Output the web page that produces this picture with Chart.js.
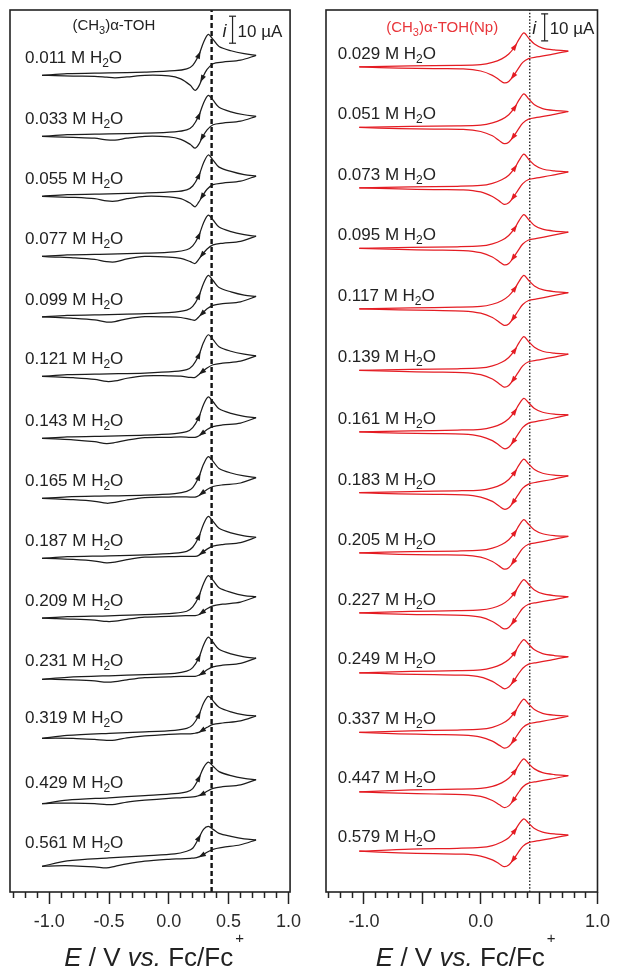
<!DOCTYPE html>
<html><head><meta charset="utf-8">
<script src="https://cdn.jsdelivr.net/npm/chart.js@4.4.1/dist/chart.umd.min.js"></script>
<style>
html,body{margin:0;padding:0;background:#fff;}
#wrap{position:relative;width:617px;height:967px;overflow:hidden;background:#fff;}
#c1{position:absolute;left:0;top:0;}
#c2{position:absolute;left:310px;top:0;}
</style></head><body>
<div id="wrap"><canvas id="c1" width="308" height="967"></canvas><canvas id="c2" width="307" height="967"></canvas></div>
<script>
// ---------------- data (E in V vs Fc/Fc+, current in µA) ----------------
const X_TICKS = [-1.3,-1.2,-1.1,-1.0,-0.9,-0.8,-0.7,-0.6,-0.5,-0.4,-0.3,-0.2,-0.1,0,0.1,0.2,0.3,0.4,0.5,0.6,0.7,0.8,0.9,1.0];
const LEFT_TICK_LABELS = [-1.0,-0.5,0,0.5,1.0];
const RIGHT_TICK_LABELS = [-1.0,0,1.0];

const LEFT_WATER = ['0.011','0.033','0.055','0.077','0.099','0.121','0.143','0.165','0.187','0.209','0.231','0.319','0.429','0.561'];
const RIGHT_WATER = ['0.029','0.051','0.073','0.095','0.117','0.139','0.161','0.183','0.205','0.227','0.249','0.337','0.447','0.579'];

// vertical stacking offset of each voltammogram (µA)
const LEFT_OFFSET = [302.5,279.9,257.7,235.4,213.0,191.0,168.0,145.8,123.6,101.4,78.8,56.9,32.7,9.5];
const RIGHT_OFFSET = [305.6,283.2,260.8,238.4,216.0,193.2,170.4,147.9,125.6,103.4,81.2,59.1,37.1,15.1];

// potentials of the anodic (forward) and return sweeps
const LEFT_E_FWD = [-1.06,-0.85,-0.5,-0.2,0.05,0.15,0.2,0.25,0.29,0.33,0.37,0.42,0.52,0.63,0.73];
const LEFT_E_REV = [0.73,0.6,0.45,0.37,0.32,0.28,0.25,0.22,0.18,0.1,0.0,-0.2,-0.35,-0.45,-0.52,-0.62,-0.8,-0.95,-1.06];
const RIGHT_E_FWD = [-1.04,-0.6,-0.2,0.0,0.1,0.18,0.24,0.29,0.33,0.37,0.41,0.46,0.53,0.63,0.75];
const RIGHT_E_REV = [0.75,0.6,0.48,0.41,0.36,0.32,0.28,0.24,0.2,0.16,0.1,0.0,-0.15,-0.4,-0.7,-1.04];

// currents (µA, relative to the trace offset)
const LEFT_FWD = [
 [0,0.6,0.9,1.2,1.7,2.4,3.7,7.4,12.2,15.2,13.3,10.7,9.1,8.0,7.4],
 [0,0.6,0.9,1.2,1.7,2.4,3.8,7.5,12.3,15.2,13.4,10.8,9.1,8.0,7.4],
 [0,0.6,0.9,1.2,1.7,2.4,3.8,7.5,12.3,15.3,13.4,10.8,9.2,8.0,7.5],
 [0,0.6,0.9,1.2,1.7,2.5,3.9,7.6,12.4,15.3,13.5,10.9,9.2,8.1,7.5],
 [0,0.6,0.9,1.2,1.8,2.5,3.9,7.6,12.4,15.4,13.5,10.9,9.3,8.1,7.6],
 [0,0.6,0.9,1.2,1.8,2.5,4.0,7.7,12.5,15.4,13.6,11.0,9.3,8.2,7.6],
 [0,0.6,0.9,1.2,1.8,2.5,4.0,7.7,12.5,15.4,13.6,11.0,9.3,8.2,7.7],
 [0,0.6,0.9,1.2,1.8,2.6,4.0,7.8,12.6,15.5,13.7,11.1,9.4,8.3,7.7],
 [0,0.6,0.9,1.3,1.9,2.6,4.1,7.8,12.6,15.5,13.7,11.1,9.4,8.3,7.8],
 [0,0.6,0.9,1.3,1.9,2.6,4.2,8.0,12.8,15.8,14.0,11.3,9.6,8.4,8.0],
 [0,0.7,1.3,1.7,2.2,3.0,4.3,7.8,12.6,15.6,13.7,11.1,9.4,8.3,7.8],
 [0,1.1,1.9,2.4,3.0,3.7,5.0,8.5,13.0,15.6,13.9,11.5,9.8,8.7,8.3],
 [0,1.3,2.2,3.0,3.7,4.4,5.6,9.3,13.3,15.4,13.9,11.9,10.4,9.4,8.9],
 [0,2.0,3.1,3.9,4.6,5.6,6.7,10.4,13.7,14.8,13.7,12.2,11.1,10.2,9.8]
];
const LEFT_REV = [
 [7.4,5.6,4.9,4.3,2.2,-1.1,-4.1,-5.6,-3.7,-1.3,-0.2,0,-0.6,-0.9,-0.7,-0.4,-0.3,-0.1,0],
 [7.4,5.6,4.9,4.3,2.4,-0.4,-3.0,-4.4,-3.0,-1.1,-0.2,0,-0.7,-1.4,-1.3,-0.7,-0.4,-0.2,0],
 [7.5,5.6,4.9,4.3,2.6,0,-2.2,-3.9,-2.6,-0.9,-0.2,0,-0.9,-1.8,-1.7,-0.9,-0.4,-0.2,0],
 [7.5,5.6,4.9,4.3,2.8,0.7,-1.1,-2.6,-1.9,-0.7,-0.2,0,-0.9,-2.0,-1.9,-1.1,-0.5,-0.2,0],
 [7.6,5.6,4.9,4.3,3.0,1.3,0,-1.2,-0.9,-0.2,0,0.1,-0.7,-1.7,-1.9,-1.1,-0.5,-0.2,0],
 [7.6,5.6,4.9,4.3,3.1,1.7,0.6,-0.4,-0.4,0.1,0.2,0.2,-0.7,-1.7,-1.9,-1.1,-0.5,-0.2,0],
 [7.7,5.7,5.0,4.4,3.3,1.9,0.9,0.4,0.4,0.6,0.4,0.3,-0.6,-1.5,-1.9,-1.2,-0.5,-0.2,0],
 [7.7,5.7,5.0,4.4,3.3,2.0,1.0,0.5,0.5,0.6,0.5,0.3,-0.6,-1.5,-1.8,-1.1,-0.5,-0.2,0],
 [7.8,5.8,5.1,4.5,3.4,2.1,1.1,0.7,0.7,0.7,0.6,0.4,-0.5,-1.4,-1.7,-1.0,-0.4,-0.1,0],
 [8.0,6.0,5.2,4.6,3.5,2.2,1.3,1.0,1.0,0.9,0.7,0.4,-0.4,-1.1,-1.2,-0.7,-0.3,-0.1,0],
 [7.8,5.9,5.2,4.6,3.5,2.2,1.5,1.1,1.1,1.1,0.9,0.6,-0.2,-0.9,-1.1,-0.6,-0.2,0,0],
 [8.3,6.5,5.7,5.2,4.1,3.0,2.2,1.9,1.7,1.7,1.5,0.9,0.2,-0.6,-0.7,-0.4,0,0.1,0],
 [8.9,7.0,6.3,5.7,4.6,3.5,3.0,2.6,2.4,2.2,2.0,1.3,0.6,-0.2,-0.3,0,0.2,0.2,0],
 [9.8,8.0,7.0,6.3,5.2,4.1,3.5,3.1,3.0,2.8,2.6,1.9,0.9,0,-0.6,-0.2,0.2,0.2,0]
];
const RIGHT_FWD = [
 [0,0.4,0.6,0.9,1.7,3.0,4.8,7.4,10.4,12.6,10.7,8.5,7.0,6.3,5.9],
 [0,0.4,0.6,0.9,1.7,3.0,4.7,7.3,10.3,12.4,10.6,8.4,7.0,6.3,5.9],
 [0,0.4,0.6,0.9,1.7,3.0,4.7,7.3,10.3,12.5,10.6,8.5,7.0,6.3,5.9],
 [0,0.4,0.6,0.9,1.7,3.0,4.8,7.4,10.4,12.5,10.7,8.5,7.1,6.4,6.0],
 [0,0.4,0.6,0.9,1.7,3.0,4.8,7.4,10.3,12.4,10.6,8.5,7.1,6.4,6.0],
 [0,0.4,0.6,0.9,1.7,3.0,4.8,7.4,10.4,12.5,10.7,8.6,7.1,6.4,6.0],
 [0,0.4,0.7,1.0,1.8,3.1,4.9,7.5,10.4,12.4,10.8,8.7,7.3,6.6,6.3],
 [0,0.4,0.7,1.0,1.8,3.1,4.9,7.5,10.4,12.4,10.7,8.6,7.2,6.5,6.2],
 [0,0.5,0.7,1.0,1.8,3.1,4.9,7.4,10.3,12.3,10.6,8.5,7.1,6.4,6.1],
 [0,0.5,0.8,1.1,1.8,3.1,4.9,7.4,10.3,12.3,10.6,8.5,7.1,6.4,6.0],
 [0,0.5,0.8,1.1,1.9,3.2,4.9,7.4,10.3,12.3,10.6,8.5,7.1,6.4,6.0],
 [0,0.6,0.9,1.2,1.9,3.2,4.9,7.4,10.3,12.3,10.6,8.5,7.1,6.4,6.0],
 [0,0.7,1.0,1.3,2.0,3.3,5.0,7.5,10.3,12.2,10.5,8.5,7.1,6.4,6.0],
 [0,0.8,1.1,1.4,2.1,3.4,5.0,7.5,10.2,12.0,10.4,8.4,7.1,6.4,6.0]
];
const RIGHT_REV = [
 [5.9,4.6,3.7,3.1,1.7,-0.7,-3.3,-5.4,-5.9,-4.8,-3.1,-1.5,-0.7,-0.6,-0.4,0],
 [5.9,4.6,3.7,3.1,1.6,-0.8,-3.4,-5.5,-6.0,-4.9,-3.1,-1.5,-0.7,-0.6,-0.4,0],
 [5.9,4.6,3.7,3.1,1.6,-0.8,-3.4,-5.5,-6.1,-4.9,-3.2,-1.5,-0.7,-0.6,-0.4,0],
 [6.0,4.7,3.7,3.1,1.6,-0.8,-3.4,-5.6,-6.1,-5.0,-3.2,-1.6,-0.8,-0.6,-0.4,0],
 [6.0,4.7,3.7,3.1,1.6,-0.8,-3.4,-5.6,-6.1,-5.0,-3.2,-1.6,-0.8,-0.6,-0.4,0],
 [6.0,4.7,3.8,3.2,1.7,-0.8,-3.4,-5.6,-6.2,-5.0,-3.2,-1.6,-0.8,-0.6,-0.4,0],
 [6.3,4.9,3.9,3.3,1.7,-0.8,-3.5,-5.7,-6.2,-5.0,-3.2,-1.6,-0.8,-0.6,-0.4,0],
 [6.2,4.8,3.9,3.2,1.7,-0.8,-3.4,-5.6,-6.1,-5.0,-3.2,-1.6,-0.8,-0.6,-0.4,0],
 [6.1,4.8,3.8,3.2,1.7,-0.7,-3.3,-5.5,-6.0,-4.9,-3.2,-1.6,-0.8,-0.7,-0.5,0],
 [6.0,4.7,3.8,3.2,1.7,-0.7,-3.3,-5.4,-5.9,-4.9,-3.2,-1.6,-0.9,-0.7,-0.5,0],
 [6.0,4.7,3.8,3.2,1.7,-0.6,-3.2,-5.3,-5.9,-4.8,-3.2,-1.6,-0.9,-0.7,-0.5,0],
 [6.0,4.7,3.8,3.2,1.8,-0.5,-3.1,-5.2,-5.8,-4.8,-3.2,-1.7,-1.0,-0.8,-0.5,0],
 [6.0,4.7,3.8,3.2,1.8,-0.5,-3.1,-5.2,-5.8,-4.8,-3.2,-1.7,-1.0,-0.8,-0.5,0],
 [6.0,4.7,3.8,3.2,1.8,-0.5,-3.0,-5.1,-5.7,-4.7,-3.2,-1.8,-1.1,-0.9,-0.6,0]
];

const LEFT_MARKER_E = 0.358;   // dashed reference line
const RIGHT_MARKER_E = 0.42;   // dotted reference line
const SCALE_BAR_UA = 10;

// ---------------- drawing ----------------
const FONT = "'Liberation Sans', Arial, Helvetica, sans-serif";
Chart.defaults.font.family = FONT;
const Y_MAX = 326.7;

function drawParts(ctx, parts, x, y, color, align) {
  // parts: [text, size, dy, italic, extraGapBefore]
  let w = 0;
  parts.forEach(p => { ctx.font = (p[3] ? 'italic ' : '') + p[1] + 'px ' + FONT; w += ctx.measureText(p[0]).width + (p[4] || 0); });
  let cx = align === 'center' ? x - w / 2 : x;
  ctx.fillStyle = color; ctx.textBaseline = 'alphabetic'; ctx.textAlign = 'left';
  parts.forEach(p => {
    ctx.font = (p[3] ? 'italic ' : '') + p[1] + 'px ' + FONT;
    cx += (p[4] || 0);
    ctx.fillText(p[0], cx, y + p[2]);
    cx += ctx.measureText(p[0]).width;
  });
}

function makePanel(id, cfg) {
  const datasets = [];
  cfg.fwd.forEach((f, i) => {
    const style = { showLine: true, borderColor: cfg.color, borderWidth: 1.25, pointRadius: 0, tension: 0.3, fill: false };
    datasets.push(Object.assign({ data: cfg.eFwd.map((e, k) => ({ x: e, y: cfg.offset[i] + f[k] })), arrowAt: cfg.fwdArrow }, style));
    datasets.push(Object.assign({ data: cfg.eRev.map((e, k) => ({ x: e, y: cfg.offset[i] + cfg.rev[i][k] })), arrowAt: cfg.revArrow }, style));
  });
  datasets.push({ data: [{ x: cfg.markerE, y: 0 }, { x: cfg.markerE, y: Y_MAX }], showLine: true, borderColor: '#111',
    borderWidth: cfg.markerWidth, borderDash: cfg.markerDash, pointRadius: 0, tension: 0 });
  datasets.push({ data: [{ x: cfg.barE, y: cfg.barTop }, { x: cfg.barE, y: cfg.barTop - SCALE_BAR_UA }], showLine: true,
    borderColor: '#222', borderWidth: 1.2, pointStyle: 'line', pointRadius: 3.5, pointBorderWidth: 1.2, pointBorderColor: '#222', tension: 0 });

  const decor = {
    id: 'decor' + id,
    afterDatasetsDraw(chart) {
      const ctx = chart.ctx, xs = chart.scales.x, ys = chart.scales.y, ca = chart.chartArea;
      ctx.save();
      // arrows on the sweeps
      chart.data.datasets.forEach((d, i) => {
        if (d.arrowAt == null) return;
        const pts = chart.getDatasetMeta(i).data;
        const p = pts[d.arrowAt], a = pts[d.arrowAt - 1], b = pts[d.arrowAt + 1];
        const ang = Math.atan2(b.y - a.y, b.x - a.x);
        ctx.save(); ctx.translate(p.x, p.y); ctx.rotate(ang);
        ctx.beginPath(); ctx.moveTo(4.5, 0); ctx.lineTo(-3, -2.6); ctx.lineTo(-3, 2.6); ctx.closePath();
        ctx.fillStyle = d.borderColor; ctx.fill(); ctx.restore();
      });
      // frame
      ctx.strokeStyle = '#222'; ctx.lineWidth = 1.6;
      ctx.strokeRect(ca.left, ca.top, ca.right - ca.left, ca.bottom - ca.top);
      // trace labels
      cfg.water.forEach((w, i) => {
        const x = xs.getPixelForValue(cfg.labelE);
        const y = ys.getPixelForValue(cfg.offset[i] + cfg.fwd[i][cfg.labelRef] + cfg.labelLift) + 6;
        drawParts(ctx, [[w + ' M H', 17, 0], ['2', 12, 4], ['O', 17, 0]], x, y, '#222', 'left');
      });
      // panel title
      drawParts(ctx, [['(CH', 15, 0], ['3', 11, 3.5], [')\u03B1-TOH' + cfg.titleExtra, 15, 0]],
        xs.getPixelForValue(cfg.titleE), ys.getPixelForValue(cfg.titleY) + 5, cfg.titleColor, 'center');
      // scale bar text
      const bx = xs.getPixelForValue(cfg.barE);
      const bm = (ys.getPixelForValue(cfg.barTop) + ys.getPixelForValue(cfg.barTop - SCALE_BAR_UA)) / 2;
      drawParts(ctx, [['i', 18, 0, true]], bx - cfg.iGap, bm + 7, '#222', 'center');
      drawParts(ctx, [['10 \u00B5A', 17, 0]], bx + 5, bm + 7, '#222', 'left');
      // axis title
      drawParts(ctx, [['E', 26, 0, true], [' / V ', 26, 0], ['vs.', 26, 0, true], [' Fc/Fc', 26, 0], ['+', 15, -23, false, 2]],
        (ca.left + ca.right) / 2 + 4, ca.bottom + 74, '#222', 'center');
      ctx.restore();
    }
  };

  return new Chart(document.getElementById(id), {
    type: 'scatter',
    data: { datasets },
    options: {
      responsive: false, animation: false, devicePixelRatio: 1,
      layout: { padding: { left: cfg.padL, right: cfg.padR, top: 10, bottom: 0 } },
      plugins: { legend: { display: false }, tooltip: { enabled: false } },
      scales: {
        x: {
          type: 'linear', position: 'bottom', min: cfg.xMin, max: cfg.xMax,
          afterBuildTicks: (axis) => { axis.ticks = X_TICKS.map(v => ({ value: v })); },
          afterFit: (axis) => { axis.height = 75; },
          ticks: {
            autoSkip: false, maxRotation: 0, padding: 7, color: '#2a2a2a', font: { size: 18 },
            callback: (v) => cfg.tickLabels.some(t => Math.abs(t - v) < 1e-6) ? Number(v).toFixed(1) : ''
          },
          grid: {
            drawOnChartArea: false, drawTicks: true, tickLength: 12, tickWidth: 1.5, tickColor: '#222',
            tickBorderDash: (c) => {
              const v = c.tick ? c.tick.value : 0;
              return Math.abs(v * 2 - Math.round(v * 2)) < 1e-6 ? [] : [6, 30];
            }
          },
          border: { display: false }
        },
        y: { type: 'linear', display: false, min: 0, max: Y_MAX }
      }
    },
    plugins: [decor]
  });
}

makePanel('c1', {
  eFwd: LEFT_E_FWD, eRev: LEFT_E_REV, fwd: LEFT_FWD, rev: LEFT_REV, offset: LEFT_OFFSET, water: LEFT_WATER,
  color: '#1c1c1c', fwdArrow: 7, revArrow: 5, xMin: -1.328, xMax: 1.014, padL: 10, padR: 17,
  tickLabels: LEFT_TICK_LABELS, markerE: LEFT_MARKER_E, markerWidth: 2.4, markerDash: [5, 3],
  barE: 0.533, barTop: 324.4, iGap: 8, labelE: -1.2025, labelRef: 2, labelLift: 5.9,
  titleE: -0.46, titleY: 321, titleColor: '#222', titleExtra: ''
});
makePanel('c2', {
  eFwd: RIGHT_E_FWD, eRev: RIGHT_E_REV, fwd: RIGHT_FWD, rev: RIGHT_REV, offset: RIGHT_OFFSET, water: RIGHT_WATER,
  color: '#e41c23', fwdArrow: 7, revArrow: 6, xMin: -1.325, xMax: 1.0, padL: 16, padR: 12,
  tickLabels: RIGHT_TICK_LABELS, markerE: RIGHT_MARKER_E, markerWidth: 1.3, markerDash: [1.5, 1.8],
  barE: 0.5475, barTop: 325.3, iGap: 10.5, labelE: -1.225, labelRef: 1, labelLift: 4.8,
  titleE: -0.33, titleY: 320.4, titleColor: '#e8353a', titleExtra: '(Np)'
});
</script></body></html>
